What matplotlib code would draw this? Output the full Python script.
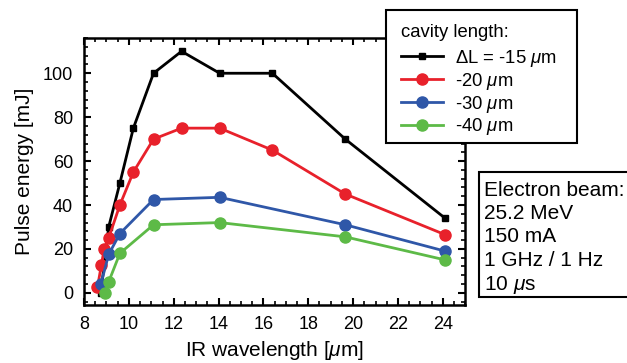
import matplotlib.pyplot as plt
from matplotlib.patches import Rectangle
from matplotlib.ticker import MultipleLocator

plt.rcParams['font.family'] = ['Liberation Sans', 'DejaVu Sans']
plt.rcParams['mathtext.fontset'] = 'custom'
plt.rcParams['mathtext.it'] = 'Liberation Sans:italic'
plt.rcParams['mathtext.rm'] = 'Liberation Sans'

# data
wl_15 = [8.75, 9.1, 9.6, 10.2, 11.1, 12.35, 14.05, 16.4, 19.65, 24.1]
e_15 = [0, 30, 50, 75, 100, 110, 100, 100, 70, 34]

wl_20 = [8.6, 8.77, 8.9, 9.1, 9.6, 10.2, 11.1, 12.35, 14.05, 16.4, 19.65, 24.1]
e_20 = [2.5, 12.5, 20, 25, 40, 55, 70, 75, 75, 65, 45, 26.5]

wl_30 = [8.75, 9.1, 9.6, 11.1, 14.05, 19.65, 24.1]
e_30 = [4, 17.5, 27, 42.5, 43.5, 31, 19]

wl_40 = [8.95, 9.1, 9.6, 11.1, 14.05, 19.65, 24.1]
e_40 = [0, 5, 18, 31, 32, 25.5, 15]

labels = [r'$\Delta$L = -15 $\mu$m', r'-20 $\mu$m', r'-30 $\mu$m', r'-40 $\mu$m']
beam_info = ['Electron beam:', '25.2 MeV', '150 mA', '1 GHz / 1 Hz', r'10 $\mu$s']

W, H = 627, 363
fig = plt.figure(figsize=(6.27, 3.63), dpi=100)
ax = fig.add_axes([0.134, 0.160, 0.608, 0.735])

ax.plot(wl_15, e_15, color='black', marker='s', markersize=5, lw=2, label=labels[0])
ax.plot(wl_20, e_20, color='#e8212b', marker='o', markersize=8, lw=2, label=labels[1])
ax.plot(wl_30, e_30, color='#2f57a8', marker='o', markersize=8, lw=2, label=labels[2])
ax.plot(wl_40, e_40, color='#5dba47', marker='o', markersize=8, lw=2, label=labels[3])

ax.set_xlim(8, 25)
ax.set_ylim(-5.5, 116)
ax.xaxis.set_major_locator(MultipleLocator(2))
ax.xaxis.set_minor_locator(MultipleLocator(0.5))
ax.yaxis.set_major_locator(MultipleLocator(20))
ax.yaxis.set_minor_locator(MultipleLocator(4))
ax.tick_params(which='both', direction='in', top=True, right=True, labelsize=13)
ax.tick_params(which='major', length=5, width=1.5, pad=8)
ax.tick_params(which='minor', length=3, width=1.2)
for s in ax.spines.values():
    s.set_linewidth(1.8)

ax.set_xlabel(r'IR wavelength [$\mu$m]', fontsize=15, labelpad=4)
ax.set_ylabel('Pulse energy [mJ]', fontsize=15, labelpad=6)

# legend frame (figure pixels converted to fractions)
fig.patches.append(Rectangle((386 / W, 1 - 143 / H), 191 / W, 133 / H, transform=fig.transFigure,
                             facecolor='white', edgecolor='black', linewidth=1.5, zorder=4))
leg = fig.legend(loc='upper left', bbox_to_anchor=(401 / W, 1 - 24 / H), title='cavity length:',
                 fontsize=13.3, title_fontsize=13.3, frameon=False,
                 handlelength=2.3, borderpad=0, labelspacing=0.1,
                 handletextpad=0.6, borderaxespad=0)
leg._legend_box.align = 'left'
leg._legend_box.sep = 5
leg.set_zorder(5)

# electron beam box
fig.patches.append(Rectangle((479 / W, 1 - 297 / H), 170 / W, 125 / H, transform=fig.transFigure,
                             facecolor='white', edgecolor='black', linewidth=1.5, zorder=4))
fig.text(484 / W, 1 - 181 / H, '\n'.join(beam_info), fontsize=15, va='top', ha='left',
         linespacing=1.28, zorder=5)

fig.savefig('out.png', dpi=100)
